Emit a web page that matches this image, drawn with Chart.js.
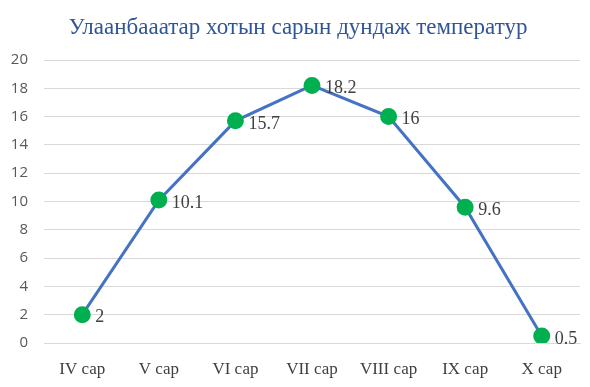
<!DOCTYPE html>
<html>
<head>
<meta charset="utf-8">
<script src="https://cdn.jsdelivr.net/npm/chart.js@4/dist/chart.umd.min.js"></script>
<style>
  html, body { margin: 0; padding: 0; background: #fff; }
  #wrap { width: 590px; height: 387px; }
</style>
</head>
<body>
<div id="wrap"><canvas id="chartCanvas" width="590" height="387"></canvas></div>
<script>
// сарууд ба дундаж температур
const months = ["IV сар", "V сар", "VI сар", "VII сар", "VIII сар", "IX сар", "X сар"];
const temps = [2, 10.1, 15.7, 18.2, 16, 9.6, 0.5];
const yTicks = [0, 2, 4, 6, 8, 10, 12, 14, 16, 18, 20];
const titleText = "Улаанбааатар хотын сарын дундаж температур";

const serif = "'Liberation Serif', 'Times New Roman', serif";
const sans = "'Open Sans', 'Liberation Sans', sans-serif";

// цэгийн баруун талд утгыг бичнэ
const valueLabels = {
    id: "valueLabels",
    afterDatasetsDraw(chart) {
        const ctx = chart.ctx;
        const meta = chart.getDatasetMeta(0);
        ctx.save();
        ctx.font = "18px " + serif;
        ctx.fillStyle = "#404040";
        ctx.textAlign = "left";
        ctx.textBaseline = "middle";
        meta.data.forEach((pt, i) => {
            ctx.fillText(String(temps[i]), pt.x + 13, pt.y + 3);
        });
        ctx.restore();
    }
};

// гарчгийг бага зэрэг баруун тийш төвлөрүүлж зурна
const chartTitle = {
    id: "chartTitle",
    afterDraw(chart) {
        const ctx = chart.ctx;
        ctx.save();
        ctx.font = "23px " + serif;
        ctx.fillStyle = "#2F5597";
        ctx.textAlign = "center";
        ctx.textBaseline = "middle";
        ctx.fillText(titleText, 298, 28);
        ctx.restore();
    }
};

const ctx = document.getElementById("chartCanvas").getContext("2d");
new Chart(ctx, {
    type: "line",
    data: {
        labels: months,
        datasets: [{
            data: temps,
            borderColor: "#4472C4",
            borderWidth: 3,
            pointBackgroundColor: "#00B050",
            pointBorderColor: "#00B050",
            pointRadius: 7,
            tension: 0,
        }],
    },
    options: {
        responsive: false,
        animation: false,
        layout: { padding: { left: 0, right: 10, top: 60, bottom: 0 } },
        plugins: {
            legend: { display: false },
            tooltip: { enabled: false },
            title: { display: false },
        },
        scales: {
            x: {
                offset: true,
                afterFit(axis) { axis.height = 44; },
                grid: { display: false, drawTicks: false, offset: true },
                border: { display: true, color: "#D9D9D9", width: 1 },
                ticks: {
                    color: "#404040",
                    font: { family: serif, size: 17 },
                    padding: 16,
                    maxRotation: 0,
                },
            },
            y: {
                min: 0,
                max: 20,
                afterBuildTicks(axis) {
                    axis.ticks = yTicks.map(v => ({ value: v }));
                },
                afterFit(axis) { axis.width = 44; },
                grid: { color: "#D9D9D9", drawTicks: false },
                border: { display: false },
                ticks: {
                    color: "#595959",
                    font: { family: sans, size: 15 },
                    padding: 16,
                },
            },
        },
    },
    plugins: [valueLabels, chartTitle],
});
</script>
</body>
</html>
